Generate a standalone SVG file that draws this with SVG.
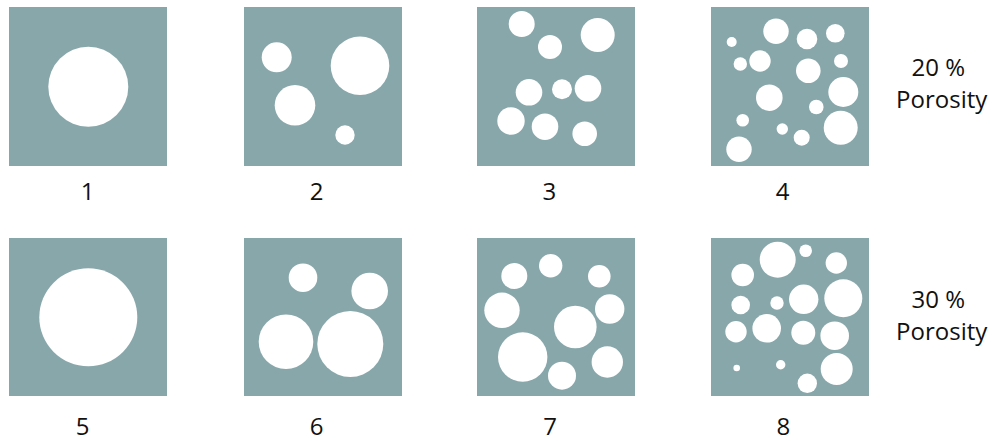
<svg xmlns="http://www.w3.org/2000/svg" width="995" height="441" viewBox="0 0 995 441">
<style>
.sq{fill:#88a7aa}
.p{fill:#ffffff}
.t{font-family:"Open Sans","Noto Sans","Liberation Sans",sans-serif;font-size:24px;fill:#111;text-anchor:middle}
</style>
<rect width="995" height="441" fill="#ffffff"/>
<g id="s1">
<rect class="sq" x="9" y="7" width="158" height="159"/>
<circle class="p" cx="88.3" cy="86.7" r="40"/>
<text class="t" x="87.5" y="200">1</text>
</g>
<g id="s2">
<rect class="sq" x="244" y="7" width="158" height="159"/>
<circle class="p" cx="276.7" cy="57.3" r="15"/>
<circle class="p" cx="360" cy="65.7" r="29.3"/>
<circle class="p" cx="295" cy="105.3" r="20.3"/>
<circle class="p" cx="345" cy="135" r="9.7"/>
<text class="t" x="316.7" y="200">2</text>
</g>
<g id="s3">
<rect class="sq" x="477" y="7" width="158" height="159"/>
<circle class="p" cx="521.7" cy="24" r="13"/>
<circle class="p" cx="550" cy="47" r="12"/>
<circle class="p" cx="597.7" cy="35" r="17"/>
<circle class="p" cx="529" cy="92.3" r="13.3"/>
<circle class="p" cx="562" cy="89.3" r="10"/>
<circle class="p" cx="588" cy="88.3" r="13.3"/>
<circle class="p" cx="511" cy="121" r="13.7"/>
<circle class="p" cx="545" cy="126.7" r="13.3"/>
<circle class="p" cx="584.7" cy="133.7" r="12.3"/>
<text class="t" x="549.3" y="200">3</text>
</g>
<g id="s4">
<rect class="sq" x="711" y="7" width="158" height="159"/>
<circle class="p" cx="731.7" cy="42" r="5"/>
<circle class="p" cx="776" cy="31.3" r="12.7"/>
<circle class="p" cx="807" cy="39" r="10.3"/>
<circle class="p" cx="835.3" cy="33.3" r="9.3"/>
<circle class="p" cx="740.3" cy="64" r="6.7"/>
<circle class="p" cx="760" cy="61" r="10.7"/>
<circle class="p" cx="808.3" cy="70.7" r="12.3"/>
<circle class="p" cx="841" cy="61" r="7"/>
<circle class="p" cx="769.3" cy="97.7" r="13.3"/>
<circle class="p" cx="843.3" cy="92" r="15"/>
<circle class="p" cx="816.3" cy="107" r="7.3"/>
<circle class="p" cx="742.7" cy="120.3" r="6.3"/>
<circle class="p" cx="782.3" cy="129" r="5.7"/>
<circle class="p" cx="801.7" cy="137.7" r="8"/>
<circle class="p" cx="840.7" cy="127.7" r="17"/>
<circle class="p" cx="739" cy="149.3" r="12.7"/>
<text class="t" x="782.7" y="200">4</text>
</g>
<g id="label20">
<text class="t" x="938.3" y="76">20 %</text>
<text class="t" x="941.7" y="108">Porosity</text>
</g>
<g id="s5">
<rect class="sq" x="9" y="238" width="158" height="158"/>
<circle class="p" cx="88.3" cy="317.3" r="49"/>
<text class="t" x="82.7" y="435">5</text>
</g>
<g id="s6">
<rect class="sq" x="244" y="238" width="158" height="158"/>
<circle class="p" cx="303" cy="277.7" r="14.3"/>
<circle class="p" cx="369.7" cy="291" r="18.3"/>
<circle class="p" cx="286" cy="341.7" r="27.3"/>
<circle class="p" cx="350.3" cy="344" r="33"/>
<text class="t" x="316.7" y="435">6</text>
</g>
<g id="s7">
<rect class="sq" x="477" y="238" width="158" height="158"/>
<circle class="p" cx="514.3" cy="276" r="13"/>
<circle class="p" cx="550.7" cy="265.7" r="11.7"/>
<circle class="p" cx="599.3" cy="276.3" r="11.3"/>
<circle class="p" cx="502" cy="310.3" r="17.7"/>
<circle class="p" cx="609.7" cy="309" r="14.7"/>
<circle class="p" cx="575.3" cy="327" r="21.3"/>
<circle class="p" cx="522.7" cy="357" r="24.7"/>
<circle class="p" cx="562" cy="375.7" r="14"/>
<circle class="p" cx="607.3" cy="362" r="15.7"/>
<text class="t" x="550" y="435">7</text>
</g>
<g id="s8">
<rect class="sq" x="711" y="238" width="158" height="158"/>
<circle class="p" cx="742.7" cy="275" r="11.3"/>
<circle class="p" cx="777.7" cy="259.7" r="18"/>
<circle class="p" cx="805.7" cy="250.7" r="6.3"/>
<circle class="p" cx="836.3" cy="263" r="10.7"/>
<circle class="p" cx="740.7" cy="305" r="9.3"/>
<circle class="p" cx="777" cy="303" r="6.7"/>
<circle class="p" cx="803.7" cy="299.3" r="14.7"/>
<circle class="p" cx="843.3" cy="298.3" r="19"/>
<circle class="p" cx="736" cy="331.7" r="10.7"/>
<circle class="p" cx="766.7" cy="328.3" r="14.3"/>
<circle class="p" cx="803.3" cy="332.7" r="12"/>
<circle class="p" cx="834.7" cy="335.7" r="14.3"/>
<circle class="p" cx="736.7" cy="368" r="3.3"/>
<circle class="p" cx="780.7" cy="364.7" r="4.7"/>
<circle class="p" cx="836.7" cy="369" r="16"/>
<circle class="p" cx="807.3" cy="383.3" r="9.7"/>
<text class="t" x="783.3" y="435">8</text>
</g>
<g id="label30">
<text class="t" x="938.3" y="308">30 %</text>
<text class="t" x="941.7" y="340">Porosity</text>
</g>
<g id="connectors"></g>
</svg>
